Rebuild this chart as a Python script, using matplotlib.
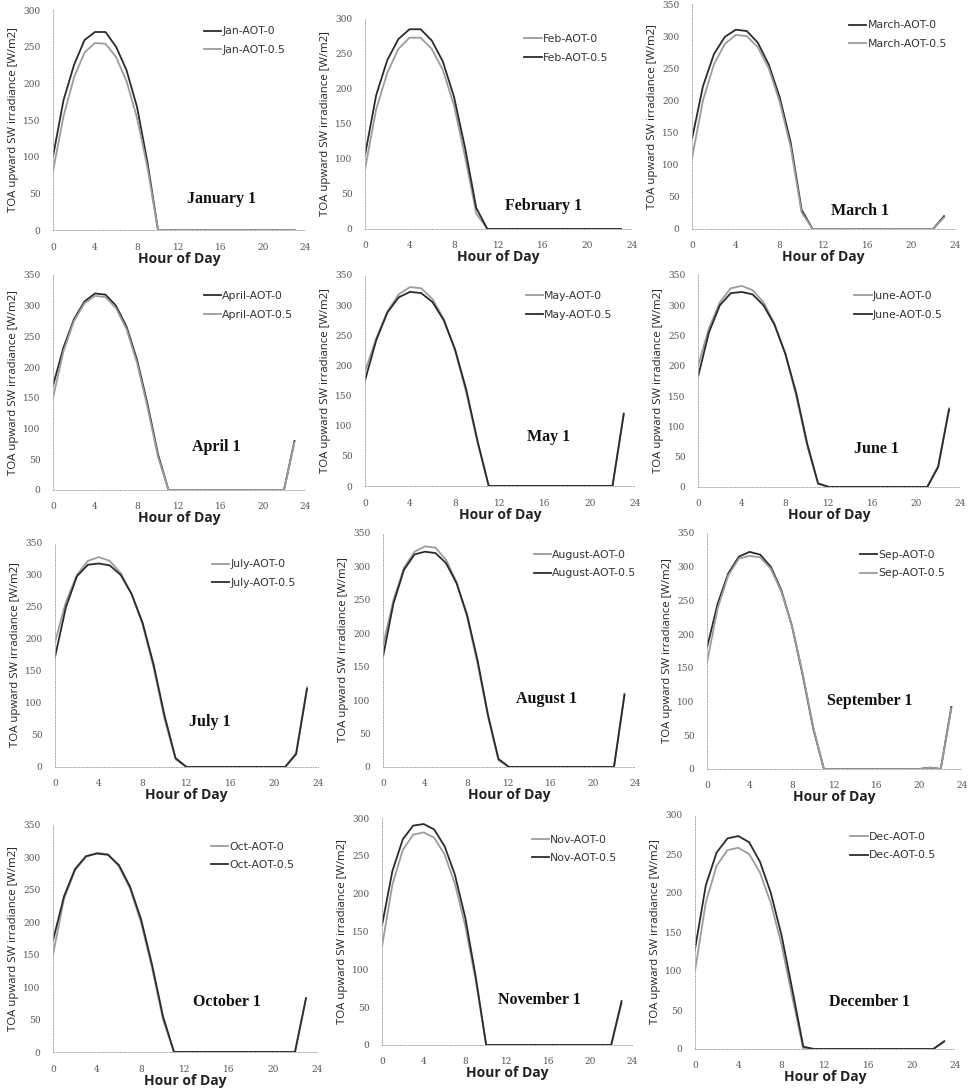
import matplotlib
matplotlib.use("Agg")
import matplotlib.pyplot as plt

W, H = 975, 1091

hours = list(range(24))

months = ["Jan", "Feb", "March", "April", "May", "June",
          "July", "August", "Sep", "Oct", "Nov", "Dec"]
titles = ["January 1", "February 1", "March 1", "April 1", "May 1", "June 1",
          "July 1", "August 1", "September 1", "October 1", "November 1", "December 1"]
ymax = [300, 300, 350, 350, 350, 350, 350, 350, 350, 350, 300, 300]

Z11 = [0] * 11
Z10 = [0] * 10

# hourly TOA upward SW irradiance, AOT = 0
aot0 = [
    [100, 177, 225, 259, 270, 270, 250, 218, 168, 92, 0, 0] + Z11 + [0],
    [85, 170, 222, 256, 272, 272, 256, 226, 176, 102, 22, 0] + Z11 + [0],
    [140, 222, 272, 299, 310, 308, 290, 256, 205, 135, 30, 0] + Z10 + [0, 20],
    [170, 232, 278, 307, 320, 318, 300, 266, 212, 140, 58, 0] + Z10 + [0, 80],
    [190, 245, 290, 318, 330, 328, 310, 277, 225, 155, 72, 0] + Z10 + [0, 118],
    [200, 262, 305, 328, 332, 325, 305, 270, 220, 150, 68, 5] + [0] * 9 + [0, 35, 130],
    [195, 258, 300, 322, 328, 322, 303, 270, 222, 155, 75, 12] + [0] * 9 + [0, 22, 125],
    [182, 250, 298, 322, 330, 328, 310, 277, 225, 155, 75, 10] + Z10 + [0, 110],
    [180, 245, 290, 315, 322, 318, 300, 265, 212, 140, 60, 0] + [0] * 9 + [2, 0, 92],
    [150, 236, 280, 301, 307, 305, 286, 252, 200, 130, 50, 0] + Z10 + [0, 83],
    [130, 212, 258, 278, 281, 274, 252, 213, 157, 85, 0, 0] + Z10 + [0, 55],
    [100, 188, 235, 255, 258, 250, 226, 187, 133, 65, 0, 0] + Z10 + [0, 9],
]

# hourly TOA upward SW irradiance, AOT = 0.5
aot05 = [
    [80, 155, 208, 242, 255, 254, 236, 203, 153, 85, 0, 0] + Z11 + [0],
    [105, 190, 240, 270, 284, 284, 268, 238, 188, 115, 30, 0] + Z11 + [0],
    [110, 200, 256, 288, 302, 300, 283, 250, 198, 128, 26, 0] + Z10 + [0, 18],
    [150, 226, 275, 304, 316, 314, 296, 262, 207, 135, 54, 0] + Z10 + [0, 78],
    [175, 242, 288, 313, 322, 320, 305, 275, 227, 160, 75, 0] + Z10 + [0, 120],
    [182, 255, 300, 320, 322, 318, 300, 268, 220, 155, 72, 6] + [0] * 9 + [0, 33, 128],
    [172, 250, 298, 316, 318, 315, 300, 270, 225, 160, 80, 14] + [0] * 9 + [0, 20, 122],
    [165, 245, 295, 318, 322, 320, 305, 275, 228, 160, 78, 12] + Z10 + [0, 108],
    [158, 238, 287, 312, 316, 314, 297, 263, 212, 142, 62, 0] + [0] * 9 + [2, 0, 90],
    [172, 240, 282, 302, 306, 304, 288, 255, 205, 135, 55, 0] + Z10 + [0, 83],
    [158, 230, 272, 290, 292, 285, 263, 225, 168, 90, 0, 0] + Z10 + [0, 58],
    [128, 210, 252, 270, 273, 265, 240, 200, 145, 75, 3, 0] + Z10 + [0, 10],
]

# line colours (AOT-0, AOT-0.5) as printed in each panel
DARK, GREY = "#2b2b2b", "#9c9c9c"
colors = [
    (DARK, GREY), (GREY, DARK), (DARK, GREY), (DARK, GREY),
    (GREY, DARK), (GREY, DARK), (GREY, DARK), (GREY, DARK),
    (DARK, GREY), (GREY, DARK), (GREY, DARK), (GREY, DARK),
]

# panel frames in pixels: x at hour 0, x at hour 24, y at 0, y at ymax
frames = [
    (53, 305, 230, 10), (365, 632, 229, 18), (692, 955, 229, 4),
    (53, 305, 490, 275), (365, 635, 486, 275), (698, 960, 487, 275),
    (55, 318, 767, 543), (383, 635, 767, 533), (707, 962, 769, 533),
    (53, 317, 1052, 825), (382, 632, 1045, 818), (695, 955, 1049, 815),
]
label_pos = [
    (0.67, 0.14), (0.67, 0.11), (0.64, 0.08), (0.65, 0.20),
    (0.68, 0.23), (0.68, 0.18), (0.59, 0.20), (0.65, 0.29),
    (0.64, 0.29), (0.66, 0.22), (0.63, 0.20), (0.67, 0.20),
]

fig = plt.figure(figsize=(W / 100, H / 100), dpi=100)

for i, m in enumerate(months):
    x0, x1, yb, yt = frames[i]
    ax = fig.add_axes([x0 / W, 1 - yb / H, (x1 - x0) / W, (yb - yt) / H])
    c0, c5 = colors[i]
    ax.plot(hours, aot0[i], color=c0, lw=1.3, label=f"{m}-AOT-0")
    ax.plot(hours, aot05[i], color=c5, lw=1.3, label=f"{m}-AOT-0.5")

    ax.set_xlim(0, 24)
    ax.set_ylim(0, ymax[i])
    ax.set_xticks(range(0, 25, 4))
    ax.set_yticks(range(0, ymax[i] + 1, 50))
    ax.tick_params(length=0, labelsize=6.5, labelcolor="#555555", pad=9,
                   labelfontfamily="DejaVu Serif")
    for s in ["top", "right"]:
        ax.spines[s].set_visible(False)
    for s in ["left", "bottom"]:
        ax.spines[s].set_linestyle(":")
        ax.spines[s].set_color("#aaaaaa")
        ax.spines[s].set_linewidth(0.7)
    ax.patch.set_alpha(0)

    ax.set_xlabel("Hour of Day", fontsize=10, fontweight="bold",
                  family="Open Sans", labelpad=0, color="#222222")
    ax.set_ylabel("TOA upward SW irradiance [W/m2]", fontsize=8.2,
                  family="Open Sans", labelpad=3, color="#222222")

    ax.text(*label_pos[i], titles[i], transform=ax.transAxes, ha="center",
            va="center", fontsize=11.5, fontweight="bold",
            family="Liberation Serif", color="#111111")

    ax.legend(loc="upper left", bbox_to_anchor=(0.56, 0.97), frameon=False,
              fontsize=7.8, handlelength=1.6, handletextpad=0.1,
              labelspacing=0.8, labelcolor="#333333")

fig.savefig("out.png", dpi=100)
